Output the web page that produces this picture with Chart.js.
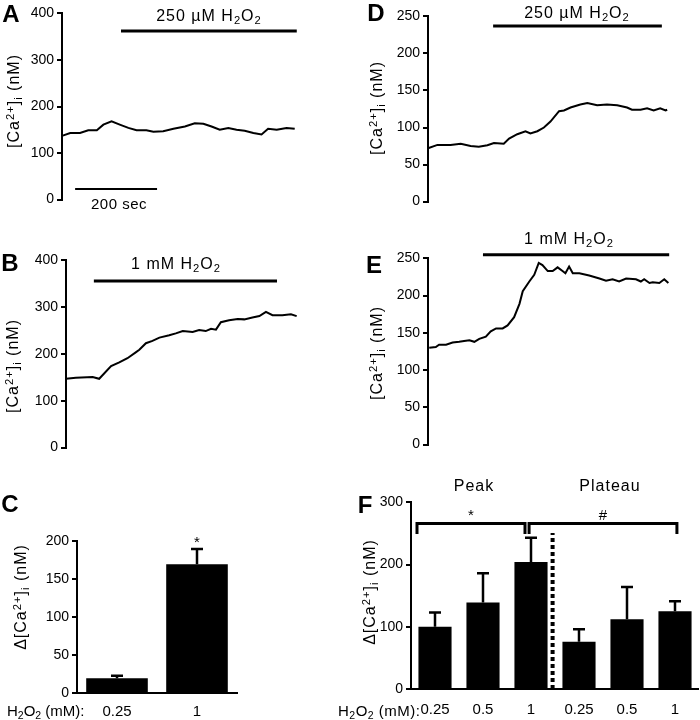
<!DOCTYPE html>
<html>
<head>
<meta charset="utf-8">
<script src="https://cdn.jsdelivr.net/npm/chart.js@4.4.0/dist/chart.umd.min.js"></script>
<style>
  body { margin: 0; background: #fff; }
  #fig { position: relative; width: 700px; height: 720px; overflow: hidden;
         font-family: 'Liberation Sans', Arial, sans-serif; color: #000; }
  .box { position: absolute; }
  .txt { position: absolute; white-space: nowrap; line-height: 1; transform: translate(-50%, -50%); }
  .left { transform: translate(0, -50%); }
  .ytitle { font-size: 16px; letter-spacing: 1px; transform: translate(-50%, -50%) rotate(-90deg); }
  .letter { font-weight: bold; font-size: 24px; }
  .treat { font-size: 16px; letter-spacing: 1px; }
  .dose { font-size: 15px; }
  sub { font-size: 0.7em; line-height: 0; vertical-align: -0.3em; }
  sup { font-size: 0.7em; line-height: 0; vertical-align: 0.45em; }
</style>
</head>
<body>
<div id="fig">
  <div class="box" id="boxA"><canvas id="chartA"></canvas></div>
  <div class="box" id="boxB"><canvas id="chartB"></canvas></div>
  <div class="box" id="boxC"><canvas id="chartC"></canvas></div>
  <div class="box" id="boxD"><canvas id="chartD"></canvas></div>
  <div class="box" id="boxE"><canvas id="chartE"></canvas></div>
  <div class="box" id="boxF"><canvas id="chartF"></canvas></div>

  <!-- panel letters -->
  <div class="txt letter" style="left:11px;top:14px">A</div>
  <div class="txt letter" style="left:10px;top:263px">B</div>
  <div class="txt letter" style="left:10px;top:504px">C</div>
  <div class="txt letter" style="left:376px;top:13px">D</div>
  <div class="txt letter" style="left:374px;top:265px">E</div>
  <div class="txt letter" style="left:365px;top:505px">F</div>

  <!-- axis titles -->
  <div class="txt ytitle" style="left:14px;top:101px">[Ca<sup>2+</sup>]<sub>i</sub> (nM)</div>
  <div class="txt ytitle" style="left:13px;top:366px">[Ca<sup>2+</sup>]<sub>i</sub> (nM)</div>
  <div class="txt ytitle" style="left:21px;top:597px">Δ[Ca<sup>2+</sup>]<sub>i</sub> (nM)</div>
  <div class="txt ytitle" style="left:377px;top:108px">[Ca<sup>2+</sup>]<sub>i</sub> (nM)</div>
  <div class="txt ytitle" style="left:377px;top:353px">[Ca<sup>2+</sup>]<sub>i</sub> (nM)</div>
  <div class="txt ytitle" style="left:370px;top:592px">Δ[Ca<sup>2+</sup>]<sub>i</sub> (nM)</div>

  <!-- treatment labels -->
  <div class="txt treat" style="left:209px;top:16px">250 µM H<sub>2</sub>O<sub>2</sub></div>
  <div class="txt treat" style="left:176px;top:264px">1 mM H<sub>2</sub>O<sub>2</sub></div>
  <div class="txt treat" style="left:577px;top:13px">250 µM H<sub>2</sub>O<sub>2</sub></div>
  <div class="txt treat" style="left:569px;top:239px">1 mM H<sub>2</sub>O<sub>2</sub></div>
  <div class="txt" style="left:119px;top:203px;font-size:15px;letter-spacing:0.5px">200 sec</div>
  <div class="txt treat" style="left:474px;top:486px">Peak</div>
  <div class="txt treat" style="left:610px;top:486px">Plateau</div>

  <!-- dose row titles -->
  <div class="txt left dose" style="left:7px;top:710px">H<sub>2</sub>O<sub>2</sub> (mM):</div>
  <div class="txt left dose" style="left:338px;top:710px;letter-spacing:0.5px">H<sub>2</sub>O<sub>2</sub> (mM):</div>
</div>

<script>
// ---- data ----
// A: 250 uM H2O2, time in s, [Ca2+]i in nM
const timeA = [0, 20, 44, 64, 85, 101, 121, 141, 162, 182, 206, 223, 247, 272, 300, 324, 345, 365, 385, 406, 426, 446, 467, 487, 503, 524, 548, 568];
const caA = [137, 143, 143, 149, 149, 161, 168, 161, 154, 149, 149, 146, 147, 152, 157, 164, 163, 157, 150, 154, 150, 148, 143, 140, 152, 150, 154, 152];
const h2o2A = [144, 573];
const scaleBarA = [32, 232]; // 200 sec

// B: 1 mM H2O2
const timeB = [0, 24, 65, 81, 110, 130, 150, 171, 179, 195, 211, 228, 252, 268, 285, 309, 325, 341, 354, 366, 378, 398, 419, 435, 455, 472, 488, 504, 528, 549, 563];
const caB = [147, 149, 151, 147, 174, 182, 191, 204, 209, 223, 228, 235, 240, 244, 249, 247, 251, 249, 254, 252, 268, 272, 275, 274, 278, 281, 290, 283, 283, 285, 281];
const h2o2B = [68, 515];

// D: 250 uM H2O2
const timeD = [0, 23, 55, 80, 104, 124, 145, 161, 185, 198, 218, 238, 250, 267, 283, 299, 320, 332, 348, 372, 389, 413, 437, 462, 486, 498, 519, 535, 551, 567, 580, 584];
const caD = [72, 76.5, 76.5, 78, 75, 74, 76, 79, 78, 85, 91, 95, 92, 95, 100, 108, 122, 123, 127, 131, 133, 130, 131, 130, 127, 124, 124, 126, 123, 126, 123, 124];
const h2o2D = [159, 571];

// E: 1 mM H2O2
const timeE = [3, 19, 27, 44, 60, 76, 88, 101, 113, 125, 141, 153, 166, 182, 194, 210, 223, 231, 247, 259, 270, 279, 292, 304, 316, 328, 335, 344, 353, 369, 393, 418, 434, 450, 466, 483, 507, 519, 527, 540, 548, 564, 576, 586];
const caE = [130, 131, 134, 134, 137, 138, 139, 140, 138, 142, 145, 152, 156, 156, 160, 171, 189, 206, 219, 228, 244, 241, 233, 233, 238, 233, 230, 239, 230, 230, 227, 223, 220, 222, 219, 223, 222, 219, 222, 217, 218, 217, 222, 217];
const h2o2E = [134, 588];

// C: mean + SEM
const doseC = ['0.25', '1'];
const deltaC = [19.6, 170];
const semC = [3, 20];
const marksC = ['', '*'];

// F: peak (first three) and plateau (last three)
const doseF = ['0.25', '0.5', '1', '0.25', '0.5', '1'];
const deltaF = [100, 139, 204, 76, 112, 125];
const semF = [23, 47, 39, 20, 52, 16];
const bracketsF = [
  { from: -0.375, to: 1.875, mark: '*' },
  { from: 1.96, to: 5.04, mark: '#' }
];

// ---- layout helpers ----
const AXW = 45, PAD = 10, XH = 30;
const FONT = "'Liberation Sans', Arial, sans-serif";
Chart.defaults.font.family = FONT;
Chart.defaults.color = '#000';

// place a chart box so its plot area lands on l,t,r,b
function place(id, l, t, r, b, pr, pb) {
  const el = document.getElementById(id);
  el.style.left = (l - AXW) + 'px';
  el.style.top = (t - PAD) + 'px';
  el.style.width = (r - l + AXW + pr) + 'px';
  el.style.height = (b - t + PAD + pb) + 'px';
  return el.querySelector('canvas');
}

function yAxis(max, step) {
  return {
    min: 0, max: max,
    ticks: { stepSize: step, padding: 3, color: '#000', font: { size: 14 } },
    grid: { drawOnChartArea: false, tickLength: 5, color: '#000', lineWidth: 2 },
    border: { color: '#000', width: 2 },
    afterFit: s => { s.width = AXW; }
  };
}

function traceChart(canvas, times, vals, xMax, yMax, yStep, bars) {
  const datasets = [{ data: times.map((t, i) => ({ x: t, y: vals[i] })), borderWidth: 2 }];
  bars.forEach(b => {
    datasets.push({ data: [{ x: b.span[0], y: b.at }, { x: b.span[1], y: b.at }], borderWidth: b.w });
  });
  datasets.forEach(d => Object.assign(d, { borderColor: '#000', pointRadius: 0, tension: 0, fill: false, clip: false }));
  new Chart(canvas, {
    type: 'line',
    data: { datasets: datasets },
    options: {
      animation: false, responsive: true, maintainAspectRatio: false,
      layout: { padding: { left: 0, top: PAD, right: PAD, bottom: PAD } },
      plugins: { legend: { display: false }, tooltip: { enabled: false } },
      scales: {
        x: { type: 'linear', min: 0, max: xMax, display: false },
        y: yAxis(yMax, yStep)
      }
    }
  });
}

// error bars (upper half only) plus significance marks
function semPlugin(sem, marks) {
  return {
    id: 'sem',
    afterDatasetsDraw(chart) {
      const ctx = chart.ctx, y = chart.scales.y;
      const vals = chart.data.datasets[0].data;
      ctx.save();
      ctx.strokeStyle = '#000';
      ctx.fillStyle = '#000';
      ctx.lineWidth = 2.5;
      ctx.font = '15px ' + FONT;
      ctx.textAlign = 'center';
      chart.getDatasetMeta(0).data.forEach((bar, i) => {
        const top = y.getPixelForValue(vals[i] + sem[i]);
        ctx.beginPath();
        ctx.moveTo(bar.x, bar.y);
        ctx.lineTo(bar.x, top);
        ctx.moveTo(bar.x - 6, top);
        ctx.lineTo(bar.x + 6, top);
        ctx.stroke();
        if (marks && marks[i]) ctx.fillText(marks[i], bar.x, top - 2);
      });
      ctx.restore();
    }
  };
}

// brackets and the dotted peak/plateau divider in F
const peakPlateauPlugin = {
  id: 'peakPlateau',
  afterDatasetsDraw(chart) {
    const ctx = chart.ctx, x = chart.scales.x, y = chart.scales.y;
    const top = y.getPixelForValue(266), end = y.getPixelForValue(249);
    ctx.save();
    ctx.strokeStyle = '#000';
    ctx.fillStyle = '#000';
    ctx.lineWidth = 3;
    ctx.font = '15px ' + FONT;
    ctx.textAlign = 'center';
    bracketsF.forEach(b => {
      const x0 = x.getPixelForValue(b.from), x1 = x.getPixelForValue(b.to);
      ctx.beginPath();
      ctx.moveTo(x0, end);
      ctx.lineTo(x0, top);
      ctx.lineTo(x1, top);
      ctx.lineTo(x1, end);
      ctx.stroke();
      ctx.fillText(b.mark, (x0 + x1) / 2, top - 4);
    });
    const xd = x.getPixelForValue(2.45);
    ctx.lineWidth = 4;
    ctx.setLineDash([4, 3]);
    ctx.beginPath();
    ctx.moveTo(xd, y.getPixelForValue(0));
    ctx.lineTo(xd, y.getPixelForValue(251));
    ctx.stroke();
    ctx.restore();
  }
};

function barChart(canvas, labels, vals, sem, marks, yMax, yStep, barPct, tickPad, padRight, extra) {
  new Chart(canvas, {
    type: 'bar',
    data: { labels: labels, datasets: [{ data: vals, backgroundColor: '#000', barPercentage: barPct, categoryPercentage: 1 }] },
    options: {
      animation: false, responsive: true, maintainAspectRatio: false,
      layout: { padding: { left: 0, top: PAD, right: padRight, bottom: 0 } },
      plugins: { legend: { display: false }, tooltip: { enabled: false } },
      scales: {
        x: {
          grid: { display: false, drawTicks: false },
          border: { color: '#000', width: 2 },
          ticks: { color: '#000', font: { size: 15 }, padding: tickPad, maxRotation: 0, autoSkip: false },
          afterFit: s => { s.height = XH; }
        },
        y: yAxis(yMax, yStep)
      }
    },
    plugins: [semPlugin(sem, marks)].concat(extra)
  });
}

traceChart(place('boxA', 62, 12, 298, 201, PAD, PAD), timeA, caA, 576, 400, 100, [
  { span: h2o2A, at: 362, w: 3 },
  { span: scaleBarA, at: 23, w: 2 }
]);
traceChart(place('boxB', 66, 259, 302, 449, PAD, PAD), timeB, caB, 576, 400, 100, [
  { span: h2o2B, at: 356, w: 3 }
]);
traceChart(place('boxD', 428, 15, 668, 203, PAD, PAD), timeD, caD, 586, 250, 50, [
  { span: h2o2D, at: 237, w: 3 }
]);
traceChart(place('boxE', 428, 257, 670, 446, PAD, PAD), timeE, caE, 590, 250, 50, [
  { span: h2o2E, at: 255, w: 3 }
]);

barChart(place('boxC', 77, 540, 237, 693, PAD, XH), doseC, deltaC, semC, marksC, 200, 50, 0.77, 10, PAD, []);
barChart(place('boxF', 411, 501, 699, 689, 0, XH), doseF, deltaF, semF, null, 300, 100, 0.69, 12, 0, [peakPlateauPlugin]);
</script>
</body>
</html>
